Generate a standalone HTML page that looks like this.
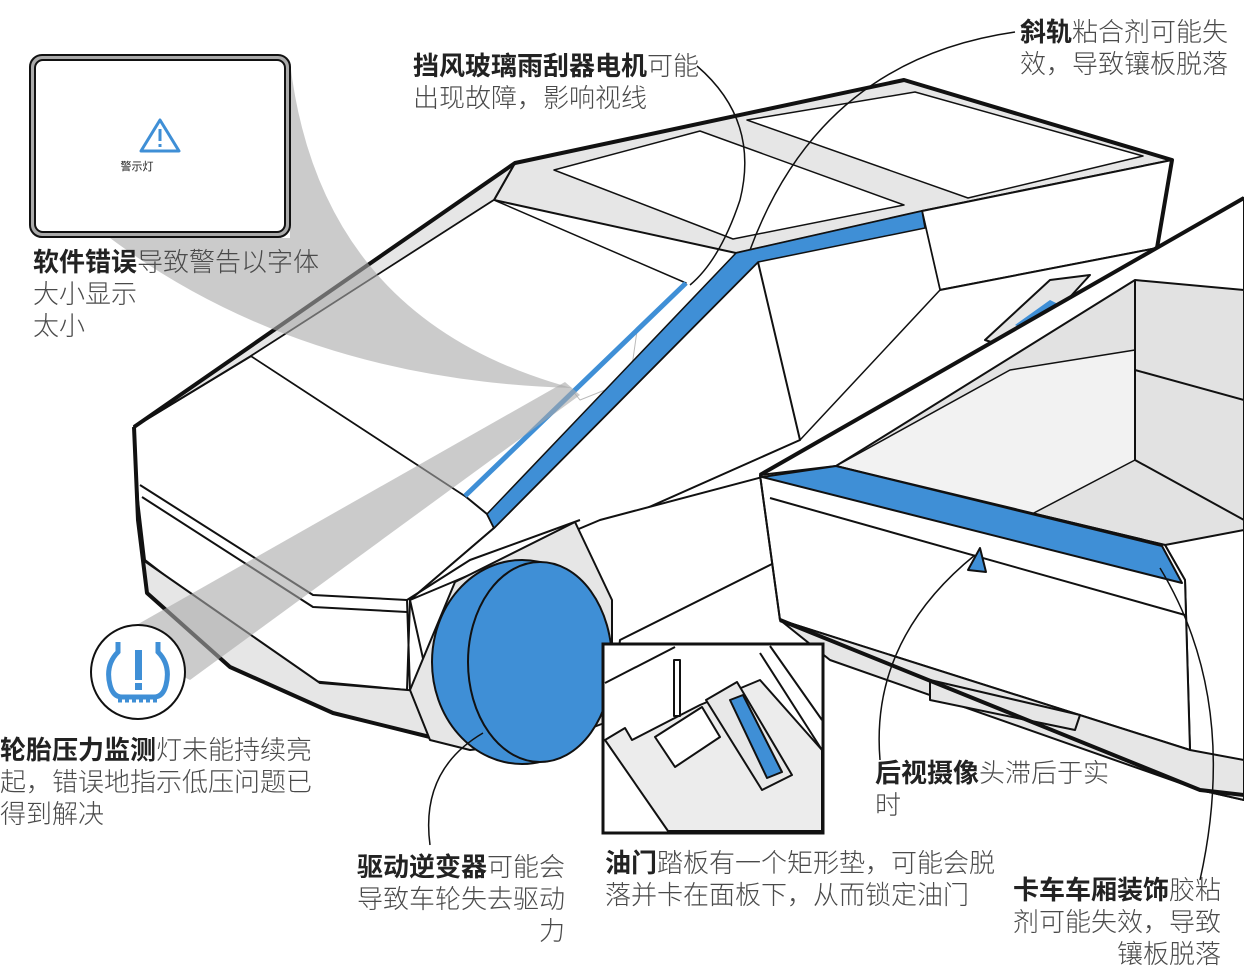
<!DOCTYPE html>
<html><head><meta charset="utf-8"><style>
html,body{margin:0;padding:0;background:#fff;}
body{width:1244px;height:980px;overflow:hidden;position:relative;font-family:"Liberation Sans","Noto Sans CJK SC",sans-serif;}
svg{position:absolute;left:0;top:0;}
.t{position:absolute;font-size:26px;line-height:32px;color:#4a4a4a;white-space:nowrap;font-family:"Liberation Sans","Noto Sans CJK SC",sans-serif;font-weight:300;}
.t b{color:#222;font-weight:700;}
</style></head><body>
<svg width="1244" height="980" viewBox="0 0 1244 980" xmlns="http://www.w3.org/2000/svg">
<g stroke="#111" stroke-width="2" stroke-linejoin="round" fill="none">
<polygon points="515,163 904,80 1172,160 922,211 736,253 494,200" fill="#e6e6e6"/>
<polygon points="554,170 700,131 904,205 733,239" fill="#fff" stroke-width="1.5"/>
<polygon points="747,120 915,92 1143,156 968,198" fill="#fff" stroke-width="1.5"/>
<polygon points="922,211 1172,160 1157,248 940,290" fill="#fff"/>
<polygon points="940,290 1157,248 1244,198 1244,300 1000,420 770,475 620,520 600,460" fill="#fff"/>
<polygon points="758,262 922,211 940,290 800,440 620,520 600,460" fill="#fff" stroke-width="1.5"/>
<g stroke="#bbb" stroke-width="1"><path d="M560,280 L610,260 L640,310 L630,380 L580,400 L540,350 Z"/><path d="M690,320 L730,300 L760,350 L750,430 L700,450 L660,400 Z"/></g>
<polygon points="134,427 251,356 465,496 487,514 494,528 410,600 407,690 300,680 145,560 138,500" fill="#fff"/>
<polygon points="134,427 515,163 494,200 251,356" fill="#e6e6e6"/>
<polygon points="251,356 494,200 686,283 465,496" fill="#fff" stroke-width="1.5"/>
<polygon points="494,528 758,262 800,440 620,520 560,560 410,600" fill="#fff"/>
<polygon points="410,600 600,520 770,475 780,560 620,640 612,700 430,690" fill="#fff"/>
<path d="M140,485 L313,595 L407,600" /><path d="M142,497 L313,607 L407,612"/>
<polygon points="143,560 320,683 432,692 430,737 333,713 230,667 147,593" fill="#e6e6e6"/>
<path d="M134,427 L138,520 L147,593 L230,667 L333,713 L430,737" stroke-width="4"/>
<path d="M407,600 L410,690" /><path d="M407,600 L470,560 L580,520"/>
<polygon points="410,690 455,582 575,522 612,600 612,720 560,740 470,750 430,740" fill="#e6e6e6"/>
<ellipse cx="522" cy="662" rx="90" ry="102" fill="#3f8fd6"/>
<ellipse cx="540" cy="662" rx="72" ry="100" fill="#3f8fd6"/>
<polygon points="487,514 736,253 922,211 925,228 758,262 494,528" fill="#3f8fd6" stroke-width="1.5"/>
<path d="M465,496 L686,283" stroke="#3f8fd6" stroke-width="5"/>
<polygon points="985,340 1050,280 1090,275 1040,330 1000,345" fill="#e6e6e6"/>
<polygon points="1015,325 1050,300 1060,305 1025,330" fill="#3f8fd6" stroke="none"/>
<polygon points="760,475 1244,198 1244,800 1200,790 1190,750 1185,580 1165,545" fill="#fff"/>
<polygon points="836,466 1135,280 1244,290 1244,530 1165,545" fill="#e2e2e2"/>
<polygon points="836,466 1010,370 1135,350 1135,460 1030,515" fill="#f2f2f2" stroke-width="1.5"/>
<path d="M1135,280 L1135,460 L1244,520" /><path d="M1135,370 L1244,400"/>
<path d="M1030,515 L1160,545"/>
<polygon points="760,475 836,466 1165,545 1185,580 1190,750 780,620" fill="#fff"/>
<polygon points="762,477 836,466 1162,546 1182,583" fill="#3f8fd6"/>
<path d="M770,498 L1185,615"/>
<polygon points="968,570 980,548 986,572" fill="#3f8fd6"/>
<path d="M760,475 L1244,198" stroke-width="4"/>
<polygon points="780,620 1190,750 1244,760 1244,800 1200,790 830,660" fill="#e6e6e6"/>
<polygon points="930,680 1080,715 1075,730 930,700" fill="#e6e6e6"/>
<path d="M780,620 L1200,790 L1244,795" stroke-width="4"/>
<path d="M760,475 L780,620"/>
<path d="M134,427 L515,163 L904,80 L1172,160 L1157,248" stroke-width="4"/>
</g>
<path d="M290,62 Q320,320 572,388 Q300,380 110,238 L290,238 Z" fill="#a8a8a8" opacity="0.6"/>
<path d="M110,640 L565,382 L580,395 L190,680 Z" fill="#a8a8a8" opacity="0.6"/>
<rect x="30" y="55" width="260" height="182" rx="12" fill="#aaa" stroke="#111" stroke-width="2"/>
<rect x="35" y="60" width="250" height="172" rx="8" fill="#fff" stroke="#111" stroke-width="2"/>
<path d="M160,120 L179,151 L141,151 Z" fill="none" stroke="#3f8fd6" stroke-width="3" stroke-linejoin="round"/>
<rect x="158.5" y="129" width="3" height="12" fill="#3f8fd6"/><rect x="158.5" y="144" width="3" height="3" fill="#3f8fd6"/>
<text x="137" y="170" font-size="11" text-anchor="middle" font-family="Liberation Sans,Noto Sans CJK SC,sans-serif" fill="#222">警示灯</text>
<circle cx="138" cy="672" r="47" fill="#fff" stroke="#111" stroke-width="2"/>
<path d="M118,642 L118,652 Q105,665 110,685 Q113,697 122,697 L154,697 Q163,697 166,685 Q171,665 158,652 L158,642" fill="none" stroke="#3f8fd6" stroke-width="5"/>
<rect x="135" y="650" width="7" height="30" fill="#3f8fd6"/><rect x="135" y="683" width="7" height="7" fill="#3f8fd6"/>
<path d="M118,700 L158,700" stroke="#3f8fd6" stroke-width="5" stroke-dasharray="4,3"/>
<rect x="603" y="644" width="220" height="189" fill="#fff" stroke="#111" stroke-width="3"/>
<g stroke="#111" stroke-width="2" fill="none" stroke-linejoin="round">
<polygon points="605,740 625,728 632,740 700,705 760,680 822,750 822,831 668,831" fill="#ececec"/>
<path d="M605,683 L675,647"/>
<path d="M760,653 L822,750"/><path d="M770,646 L822,720"/>
<rect x="674" y="660" width="6" height="56" fill="#fff"/>
<polygon points="655,737 702,707 720,737 675,767" fill="#fff"/>
<polygon points="706,700 737,682 792,775 762,790" fill="#e8e8e8"/>
<polygon points="730,700 743,695 782,772 767,778" fill="#3f8fd6"/>
</g>
<g stroke="#111" stroke-width="1.5" fill="none">
<path d="M697,66 Q760,120 740,200 Q720,260 690,285"/>
<path d="M1015,32 Q820,60 750,250"/>
<path d="M430,845 Q420,770 483,733"/>
<path d="M880,760 Q870,640 975,555"/>
<path d="M1200,880 Q1240,700 1160,568"/>
</g>
</svg>
<div class="t" style="left:413px;top:50px"><b>挡风玻璃雨刮器电机</b>可能<br>出现故障，影响视线</div>
<div class="t" style="right:16px;top:16px;text-align:right"><b>斜轨</b>粘合剂可能失<br>效，导致镶板脱落</div>
<div class="t" style="left:33px;top:246px"><b>软件错误</b>导致警告以字体<br>大小显示<br>太小</div>
<div class="t" style="left:0px;top:734px"><b>轮胎压力监测</b>灯未能持续亮<br>起，错误地指示低压问题已<br>得到解决</div>
<div class="t" style="left:357px;top:851px;width:208px;text-align:right"><div style="text-align:left"><b>驱动逆变器</b>可能会<br>导致车轮失去驱动</div>力</div>
<div class="t" style="left:605px;top:847px"><b>油门</b>踏板有一个矩形垫，可能会脱<br>落并卡在面板下，从而锁定油门</div>
<div class="t" style="left:875px;top:757px"><b>后视摄像</b>头滞后于实<br>时</div>
<div class="t" style="left:1013px;top:874px;width:208px;text-align:right"><div style="text-align:left"><b>卡车车厢装饰</b>胶粘<br>剂可能失效，导致</div>镶板脱落</div>
</body></html>
